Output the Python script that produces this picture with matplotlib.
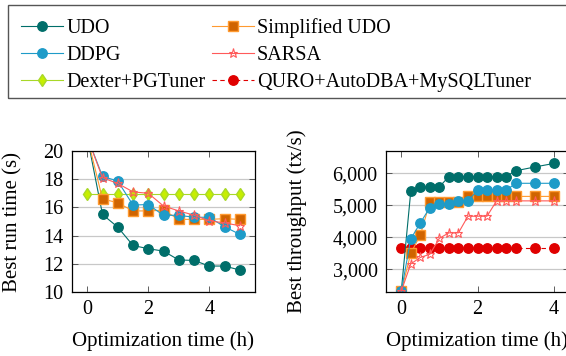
import numpy as np
import matplotlib
matplotlib.use("Agg")
import matplotlib.pyplot as plt
from matplotlib.patches import Rectangle
from matplotlib.ticker import FuncFormatter

plt.rcParams['font.family'] = ['Liberation Serif', 'DejaVu Serif']

# left panel: run time (s) vs optimization time (h)
t_left = [0, 0.5, 1, 1.5, 2, 2.5, 3, 3.5, 4, 4.5, 5]
udo_left = [21, 15.5, 14.6, 13.3, 13.07, 12.9, 12.27, 12.24, 11.84, 11.84, 11.56]
simp_left = [21, 16.6, 16.33, 15.75, 15.75, 15.8, 15.15, 15.15, 15.15, 15.2, 15.15]
ddpg_left = [21, 18.2, 17.87, 16.17, 16.2, 15.44, 15.44, 15.3, 15.3, 14.63, 14.09]
sarsa_left = [21, 18.1, 17.7, 17.1, 17.0, 16.1, 15.75, 15.45, 15.05, 14.9, 14.7]
dexter_left = [16.93, 16.93, 16.93, 16.93, 16.93, 16.93, 16.93, 16.93, 16.93, 16.93, 16.93]

# right panel: throughput (tx/s) vs optimization time (h)
t_right = [0, 0.25, 0.5, 0.75, 1, 1.25, 1.5, 1.75, 2, 2.25, 2.5, 2.75, 3, 3.5, 4]
udo_right = [2310, 5440, 5560, 5560, 5580, 5900, 5900, 5900, 5900, 5900, 5900, 5900, 6080, 6200, 6310]
simp_right = [2310, 3500, 4070, 5090, 5090, 5090, 5090, 5280, 5280, 5280, 5280, 5280, 5280, 5280, 5280]
ddpg_right = [2310, 3950, 4450, 4930, 5040, 5040, 5140, 5140, 5470, 5470, 5470, 5470, 5690, 5690, 5690]
sarsa_right = [2310, 3170, 3370, 3470, 3970, 4140, 4140, 4660, 4660, 4660, 5140, 5140, 5140, 5140, 5140]
quro_right = [3680, 3680, 3680, 3680, 3680, 3680, 3680, 3680, 3680, 3680, 3680, 3680, 3680, 3680, 3680]

# legend order, column by column
labels = ['UDO', 'DDPG', 'Dexter+PGTuner', 'Simplified UDO', 'SARSA', 'QURO+AutoDBA+MySQLTuner']

teal = '#006e6a'
blue = '#1e9bc8'
orange_fill = '#d06400'
orange_edge = '#ff9a30'
red = '#e00000'
pink = '#ff5a5a'
lime_fill = '#c6ee00'
lime_edge = '#a8d828'

styles = {
    'UDO': dict(color=teal, marker='o', ms=6.8, mfc=teal, mec=teal, lw=0.8),
    'Simplified UDO': dict(color=orange_edge, marker='s', ms=6.8, mfc=orange_fill, mec=orange_edge, mew=1.0, lw=0.8),
    'DDPG': dict(color=blue, marker='o', ms=6.8, mfc=blue, mec=blue, lw=0.8),
    'SARSA': dict(color=pink, marker='*', ms=6.5, mfc='none', mec=pink, mew=0.8, lw=0.8),
    'Dexter+PGTuner': dict(color=lime_edge, marker='d', ms=6.5, mfc=lime_fill, mec=lime_edge, lw=0.8),
    'QURO+AutoDBA+MySQLTuner': dict(color=red, marker='o', ms=6.8, mfc=red, mec=red, lw=0.8, ls=(0, (4, 3))),
}

W, H = 566, 356
fig = plt.figure(figsize=(W / 100, H / 100), dpi=100)

def px_axes(x0, y0, x1, y1):
    return fig.add_axes([x0 / W, 1 - y1 / H, (x1 - x0) / W, (y1 - y0) / H])

ax1 = px_axes(72, 151, 255, 292)
ax2 = px_axes(386, 151, 569, 292)

handles = {}
for name, ys in [('Dexter+PGTuner', dexter_left), ('UDO', udo_left), ('Simplified UDO', simp_left),
                 ('DDPG', ddpg_left), ('SARSA', sarsa_left)]:
    h, = ax1.plot(t_left, ys, label=name, **styles[name])
    handles[name] = h

for name, ys in [('QURO+AutoDBA+MySQLTuner', quro_right), ('UDO', udo_right), ('Simplified UDO', simp_right),
                 ('DDPG', ddpg_right), ('SARSA', sarsa_right)]:
    h, = ax2.plot(t_right, ys, label=name, **styles[name])
    handles[name] = h

ax1.set_xlim(-0.5, 5.5)
ax1.set_ylim(10, 20)
ax1.set_xticks([0, 2, 4])
ax1.set_yticks([10, 12, 14, 16, 18, 20])

ax2.set_xlim(-0.4, 4.4)
ax2.set_ylim(2290, 6700)
ax2.set_xticks([0, 2, 4])
ax2.set_yticks([3000, 4000, 5000, 6000])
ax2.yaxis.set_major_formatter(FuncFormatter(lambda v, p: f'{int(v):,}'))

for ax in (ax1, ax2):
    ax.grid(axis='y', color='#c8c8c8', lw=0.9)
    ax.set_axisbelow(True)
    ax.tick_params(direction='in', length=4, width=0.6, top=True, right=True,
                   labelsize=14.5, color='#444444', pad=6)
    for s in ax.spines.values():
        s.set_linewidth(0.9)
    ax.set_xlabel('Optimization time (h)', fontsize=15)

ax1.set_ylabel('Best run time (s)', fontsize=15)
ax2.set_ylabel('Best throughput (tx/s)', fontsize=15)
ax1.yaxis.set_label_coords(-0.27, 0.5)
ax2.yaxis.set_label_coords(-0.43, 0.5)
ax1.xaxis.set_label_coords(0.5, -0.28)
ax2.xaxis.set_label_coords(0.5, -0.28)

# legend box (runs past the right edge of the picture)
fig.patches.append(Rectangle((8 / W, 1 - 98 / H), 600 / W, 93 / H, transform=fig.transFigure,
                             fill=False, ec='#555555', lw=1.0))
fig.legend([handles[n] for n in labels], labels, ncol=2, loc='upper left',
           bbox_to_anchor=(13 / W, 1 - 10 / H), frameon=False, fontsize=14.5,
           handlelength=2.1, handletextpad=0.15, columnspacing=0.3, labelspacing=0.4,
           borderaxespad=0)

fig.savefig('out.png', dpi=100)
